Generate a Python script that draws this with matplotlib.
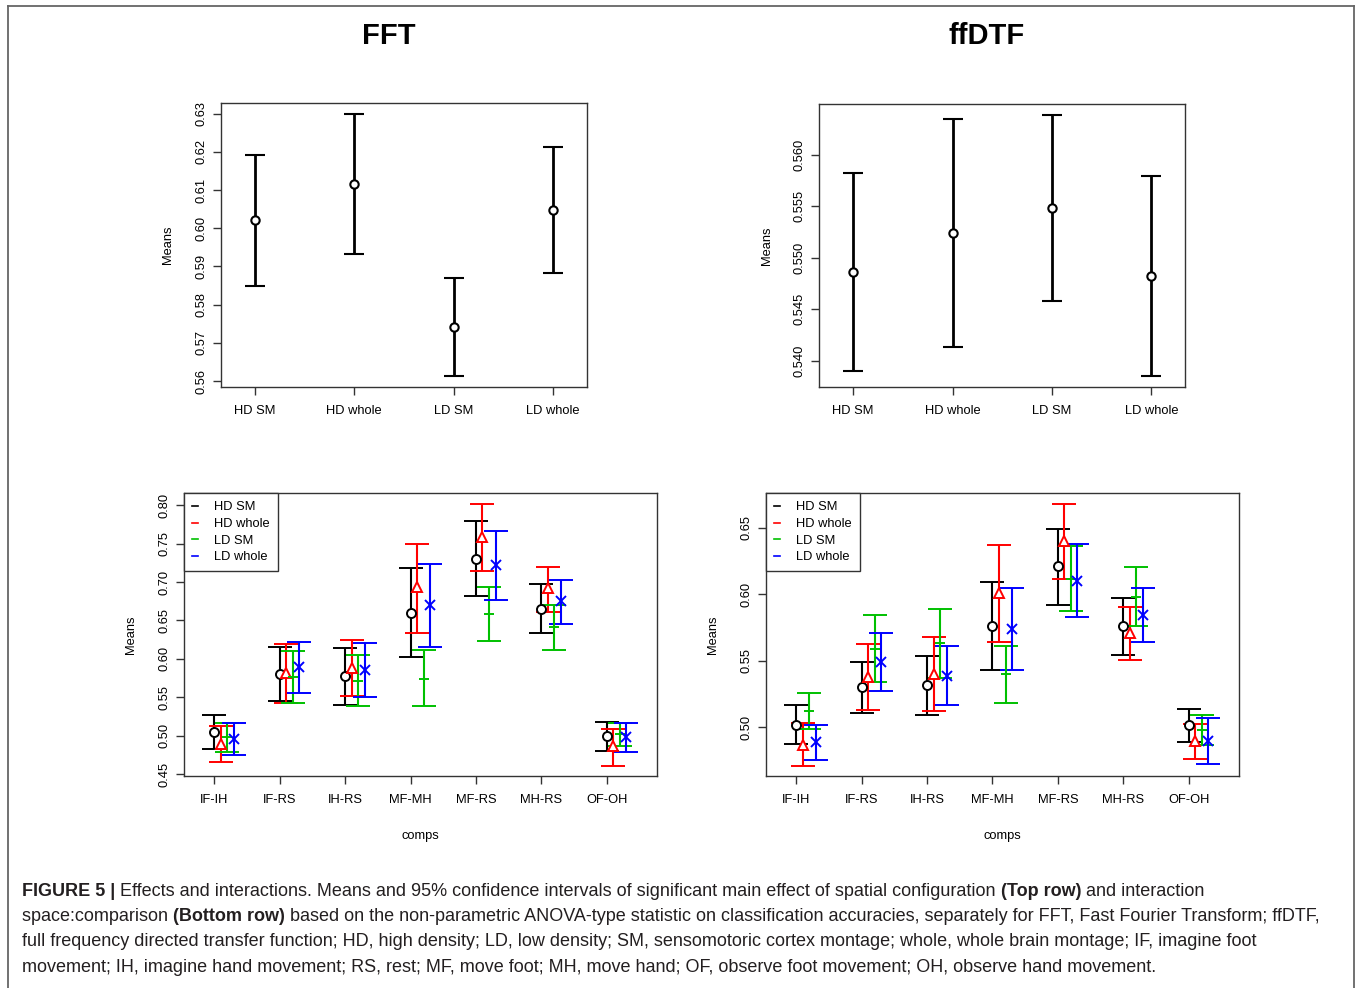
import matplotlib
matplotlib.use("Agg")
import matplotlib.pyplot as plt
from matplotlib.lines import Line2D
import numpy as np

plt.rcParams['font.family'] = ['Liberation Sans', 'DejaVu Sans']

configs = ['HD SM', 'HD whole', 'LD SM', 'LD whole']
comps = ['IF-IH', 'IF-RS', 'IH-RS', 'MF-MH', 'MF-RS', 'MH-RS', 'OF-OH']

# main effect of spatial configuration
fft_mean = [0.6021, 0.6115, 0.5741, 0.6047]
fft_lo = [0.5849, 0.5932, 0.5612, 0.5883]
fft_hi = [0.6192, 0.6300, 0.5870, 0.6212]

dtf_mean = [0.5486, 0.5524, 0.5548, 0.5482]
dtf_lo = [0.5390, 0.5413, 0.5458, 0.5385]
dtf_hi = [0.5582, 0.5635, 0.5639, 0.5579]

# interaction space:comparison, FFT
fft_hdsm = [0.505, 0.580, 0.577, 0.660, 0.730, 0.665, 0.499]
fft_hdsm_lo = [0.482, 0.545, 0.540, 0.603, 0.682, 0.633, 0.480]
fft_hdsm_hi = [0.527, 0.615, 0.614, 0.718, 0.780, 0.697, 0.518]
fft_hdwh = [0.489, 0.582, 0.588, 0.693, 0.759, 0.692, 0.486]
fft_hdwh_lo = [0.466, 0.543, 0.551, 0.633, 0.715, 0.661, 0.461]
fft_hdwh_hi = [0.512, 0.619, 0.625, 0.750, 0.802, 0.720, 0.509]
fft_ldsm = [0.498, 0.576, 0.571, 0.574, 0.658, 0.641, 0.502]
fft_ldsm_lo = [0.479, 0.542, 0.538, 0.538, 0.623, 0.612, 0.487]
fft_ldsm_hi = [0.517, 0.610, 0.605, 0.612, 0.693, 0.670, 0.517]
fft_ldwh = [0.496, 0.589, 0.585, 0.670, 0.722, 0.675, 0.498]
fft_ldwh_lo = [0.475, 0.556, 0.550, 0.616, 0.677, 0.646, 0.479]
fft_ldwh_hi = [0.516, 0.622, 0.620, 0.724, 0.767, 0.703, 0.516]

# interaction space:comparison, ffDTF
dtf_hdsm = [0.502, 0.530, 0.532, 0.576, 0.621, 0.576, 0.5015]
dtf_hdsm_lo = [0.4875, 0.511, 0.5095, 0.543, 0.592, 0.5546, 0.489]
dtf_hdsm_hi = [0.517, 0.549, 0.554, 0.6095, 0.6494, 0.597, 0.514]
dtf_hdwh = [0.487, 0.538, 0.540, 0.601, 0.640, 0.571, 0.4895]
dtf_hdwh_lo = [0.4712, 0.5133, 0.512, 0.5644, 0.6118, 0.5506, 0.4764]
dtf_hdwh_hi = [0.503, 0.563, 0.568, 0.6368, 0.6682, 0.5907, 0.5023]
dtf_ldsm = [0.512, 0.5586, 0.5634, 0.540, 0.6118, 0.598, 0.498]
dtf_ldsm_lo = [0.4985, 0.534, 0.5368, 0.5185, 0.5872, 0.5762, 0.4867]
dtf_ldsm_hi = [0.5256, 0.5842, 0.589, 0.5614, 0.6366, 0.6205, 0.5095]
dtf_ldwh = [0.4887, 0.5494, 0.5388, 0.5737, 0.6103, 0.5842, 0.490]
dtf_ldwh_lo = [0.4757, 0.5276, 0.5165, 0.5434, 0.5827, 0.5642, 0.4727]
dtf_ldwh_hi = [0.502, 0.5712, 0.5614, 0.6045, 0.6381, 0.6045, 0.507]

colors = ['black', '#ff0000', '#00c000', '#0000ff']
markers = ['o', '^', '+', 'x']
offsets = [0.0, 0.1, 0.2, 0.3]

FS = 9.3
AXCOL = '#333333'

fig = plt.figure(figsize=(13.6, 9.88), dpi=100)


def r_ylim(ax, lo, hi):
    # R style: data range padded by 4%
    lo, hi = np.min(lo), np.max(hi)
    pad = 0.04 * (hi - lo)
    ax.set_ylim(lo - pad, hi + pad)


def style_axes(ax, yticks, fmt):
    for s in ax.spines.values():
        s.set_color(AXCOL)
        s.set_linewidth(1.0)
    ax.set_yticks(yticks)
    ax.set_yticklabels([fmt.format(v) for v in yticks], rotation=90, va='center')
    ax.tick_params(axis='both', direction='out', length=6, width=1.0,
                   color=AXCOL, labelsize=FS, pad=4)
    ax.tick_params(axis='x', pad=7)
    ax.set_ylabel('Means', fontsize=FS, labelpad=15)


def top_panel(rect, mean, lo, hi, yticks, fmt):
    ax = fig.add_axes(rect)
    x = np.arange(1, len(configs) + 1)
    mean = np.array(mean)
    ax.errorbar(x, mean, yerr=[mean - np.array(lo), np.array(hi) - mean],
                fmt='o', color='black', mfc='white', mec='black', ms=6, mew=1.5,
                elinewidth=2.0, capsize=7, capthick=2.0)
    ax.set_xlim(0.66, 4.34)
    r_ylim(ax, lo, hi)
    ax.set_xticks(x)
    ax.set_xticklabels(configs)
    style_axes(ax, yticks, fmt)
    return ax


def bottom_panel(rect, series, yticks, fmt):
    ax = fig.add_axes(rect)
    x = np.arange(1, len(comps) + 1)
    all_lo, all_hi = [], []
    for (mean, lo, hi), c, m, off in zip(series, colors, markers, offsets):
        mean = np.array(mean)
        ax.errorbar(x + off, mean, yerr=[mean - np.array(lo), np.array(hi) - mean],
                    fmt=m, color=c, mfc='white', mec=c, ms=6.5, mew=1.4,
                    elinewidth=1.5, capsize=8.5, capthick=1.5)
        all_lo += list(lo)
        all_hi += list(hi)
    ax.set_xlim(0.537, 7.765)
    r_ylim(ax, all_lo, all_hi)
    ax.set_xticks(x)
    ax.set_xticklabels(comps)
    style_axes(ax, yticks, fmt)
    ax.set_xlabel('comps', fontsize=FS, labelpad=17)
    handles = [Line2D([], [], color=c, lw=1.2) for c in colors]
    leg = ax.legend(handles, configs, loc='upper left', borderaxespad=0,
                    fontsize=FS, handlelength=0.5, handletextpad=1.2,
                    labelspacing=0.36, borderpad=0.62, fancybox=False,
                    framealpha=1)
    leg.get_frame().set_edgecolor(AXCOL)
    leg.get_frame().set_linewidth(1.0)
    return ax


top_panel([0.1625, 0.6083, 0.2691, 0.2874], fft_mean, fft_lo, fft_hi,
          np.arange(0.56, 0.6301, 0.01), '{:.2f}')
top_panel([0.6024, 0.6086, 0.2691, 0.2861], dtf_mean, dtf_lo, dtf_hi,
          np.arange(0.540, 0.5601, 0.005), '{:.3f}')

fft_series = [(fft_hdsm, fft_hdsm_lo, fft_hdsm_hi),
              (fft_hdwh, fft_hdwh_lo, fft_hdwh_hi),
              (fft_ldsm, fft_ldsm_lo, fft_ldsm_hi),
              (fft_ldwh, fft_ldwh_lo, fft_ldwh_hi)]
dtf_series = [(dtf_hdsm, dtf_hdsm_lo, dtf_hdsm_hi),
              (dtf_hdwh, dtf_hdwh_lo, dtf_hdwh_hi),
              (dtf_ldsm, dtf_ldsm_lo, dtf_ldsm_hi),
              (dtf_ldwh, dtf_ldwh_lo, dtf_ldwh_hi)]

bottom_panel([0.1353, 0.2146, 0.3476, 0.2861], fft_series,
             np.arange(0.45, 0.8001, 0.05), '{:.2f}')
bottom_panel([0.5632, 0.2146, 0.3476, 0.2861], dtf_series,
             np.arange(0.50, 0.6501, 0.05), '{:.2f}')

# column titles
fig.text(389 / 1360, 1 - 36 / 988, 'FFT', fontsize=21, fontweight='bold',
         ha='center', va='center')
fig.text(987 / 1360, 1 - 36 / 988, 'ffDTF', fontsize=21, fontweight='bold',
         ha='center', va='center')

# outer frame (open at the bottom)
W, H = 1360, 988
frame = dict(color='#666666', lw=1.3, transform=fig.transFigure)
fig.add_artist(Line2D([8 / W, 8 / W], [0, 1 - 6 / H], **frame))
fig.add_artist(Line2D([8 / W, 1354 / W], [1 - 6 / H, 1 - 6 / H], **frame))
fig.add_artist(Line2D([1354 / W, 1354 / W], [0, 1 - 6 / H], **frame))

# caption, mixed bold / regular runs
caption = [
    [("FIGURE 5 |", 'bold'),
     (" Effects and interactions. Means and 95% confidence intervals of significant main effect of spatial configuration ", 'normal'),
     ("(Top row)", 'bold'), (" and interaction", 'normal')],
    [("space:comparison ", 'normal'), ("(Bottom row)", 'bold'),
     (" based on the non-parametric ANOVA-type statistic on classification accuracies, separately for FFT, Fast Fourier Transform; ffDTF,", 'normal')],
    [("full frequency directed transfer function; HD, high density; LD, low density; SM, sensomotoric cortex montage; whole, whole brain montage; IF, imagine foot", 'normal')],
    [("movement; IH, imagine hand movement; RS, rest; MF, move foot; MH, move hand; OF, observe foot movement; OH, observe hand movement.", 'normal')],
]
cap_y = [891, 916, 942, 967]
renderer = fig.canvas.get_renderer()
for runs, yy in zip(caption, cap_y):
    x0 = 22
    for txt, wt in runs:
        t = fig.text(x0 / W, 1 - yy / H, txt, fontsize=12.95, fontweight=wt,
                     color='#231f20', ha='left', va='center')
        bb = t.get_window_extent(renderer)
        x0 += bb.width

fig.savefig('out.png', dpi=100)
